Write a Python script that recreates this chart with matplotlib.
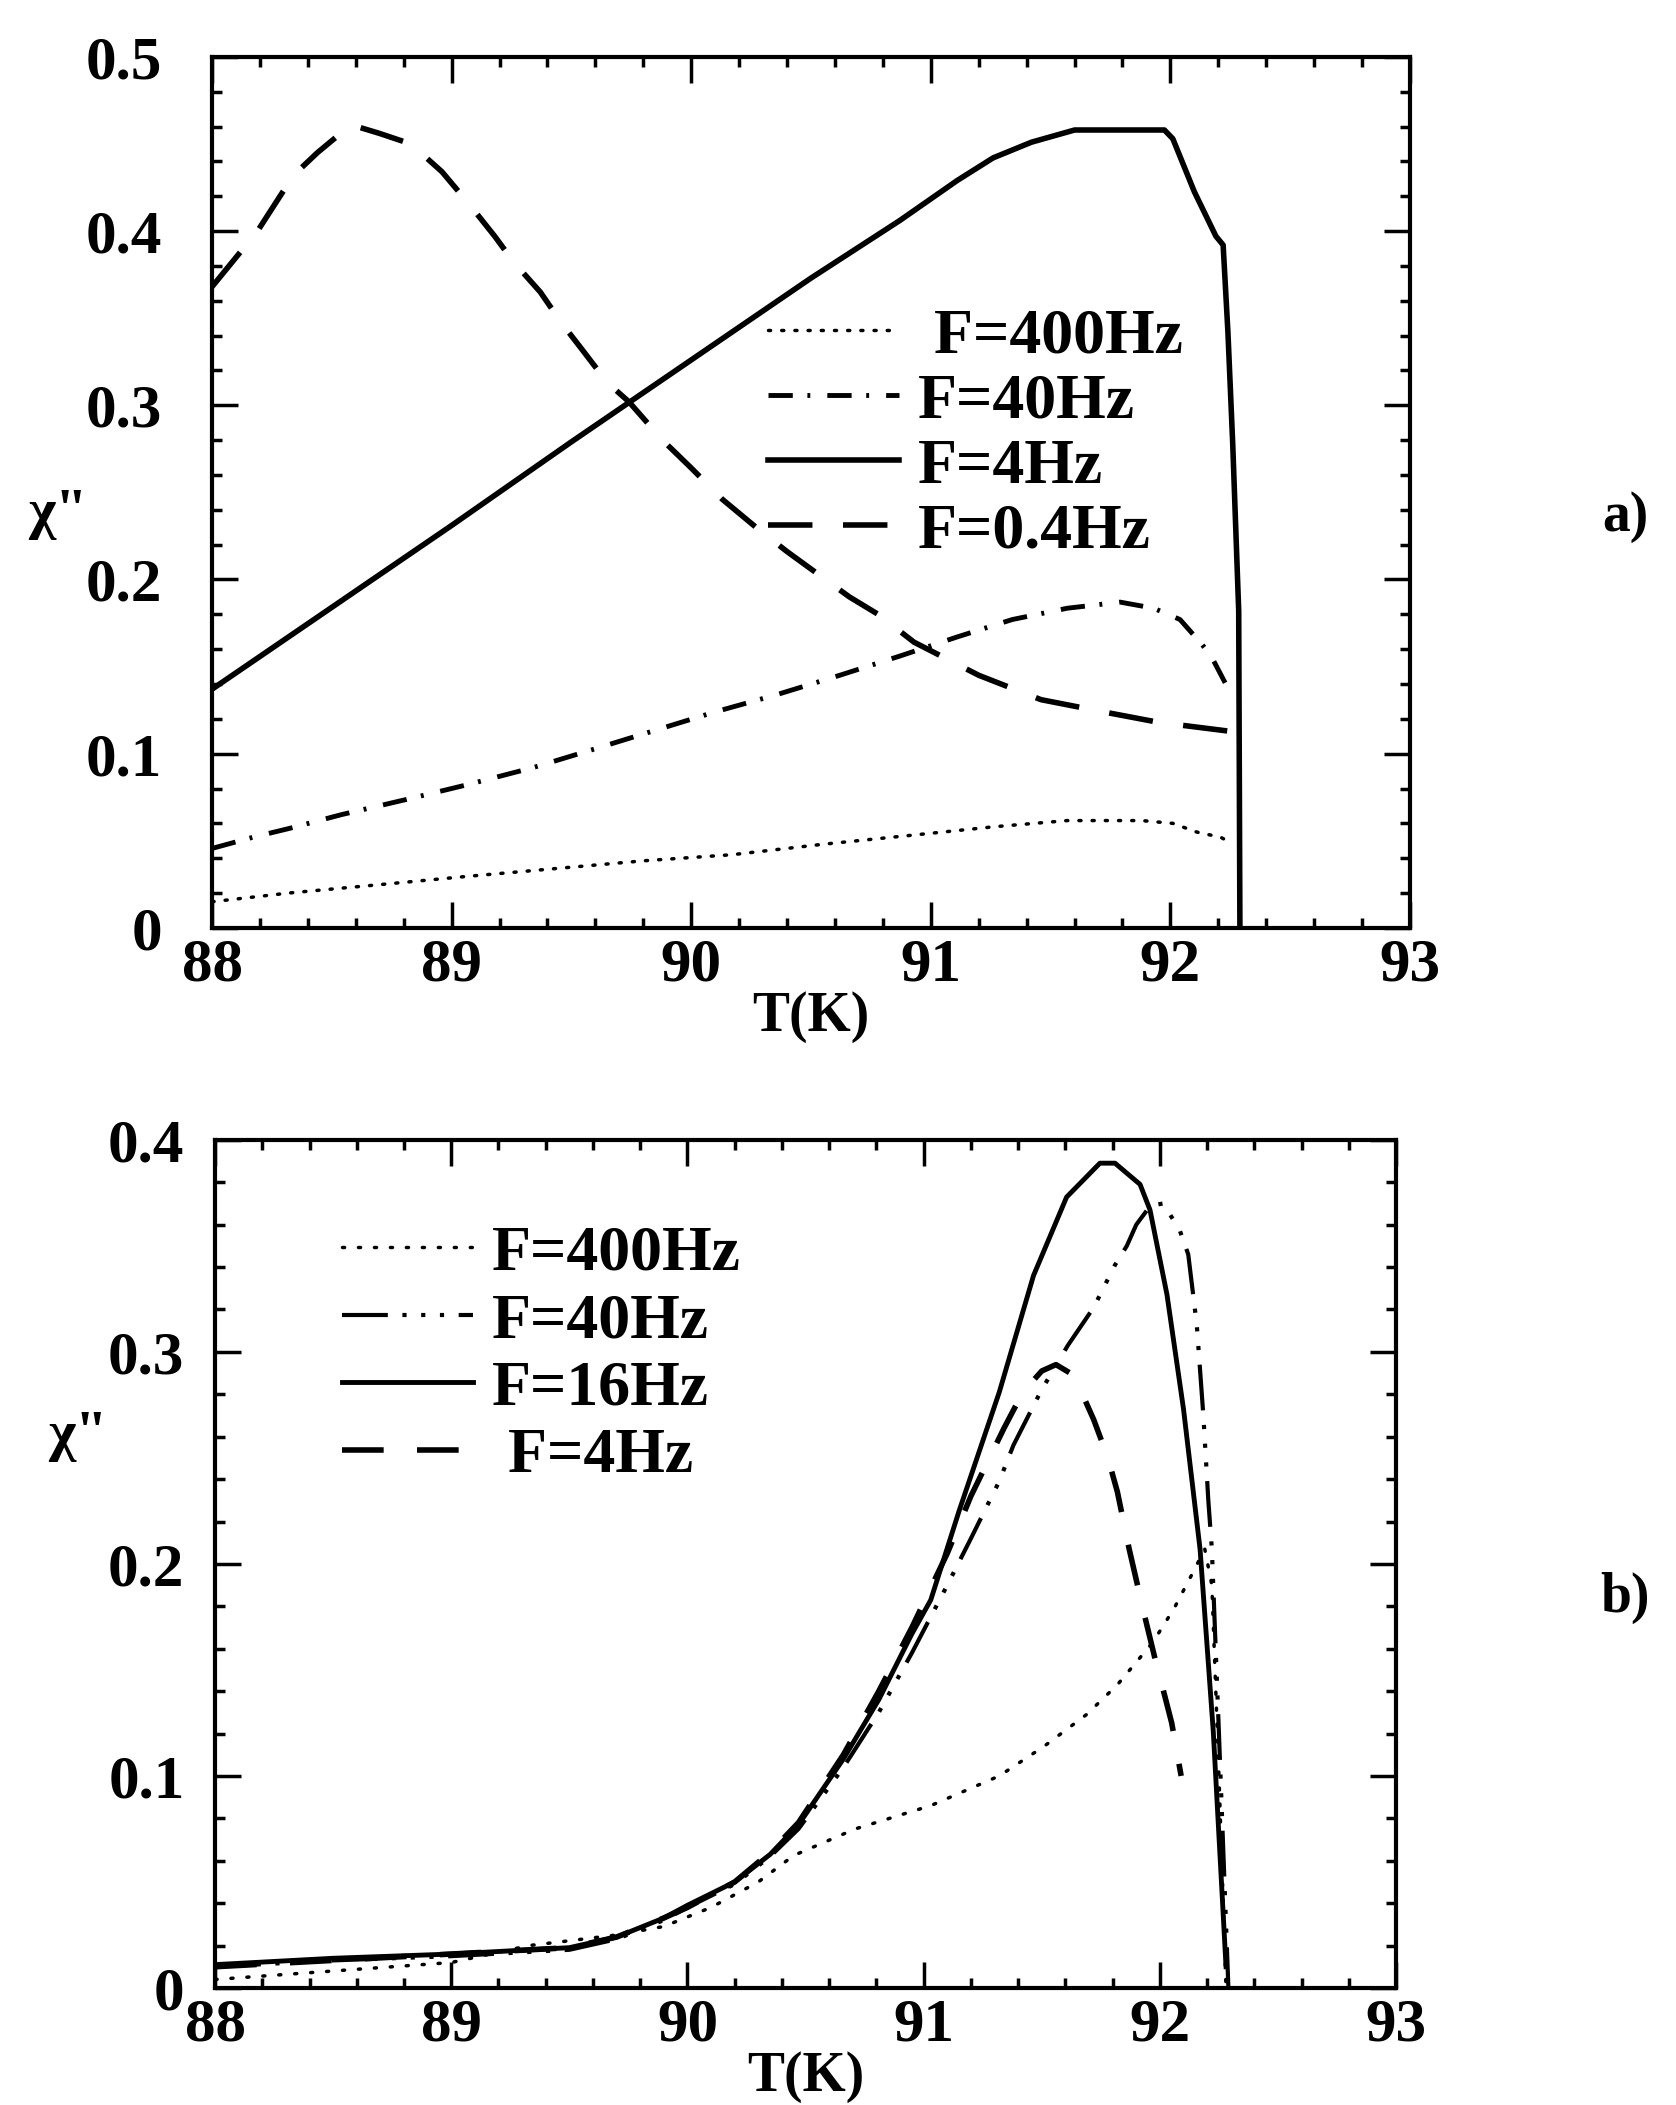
import matplotlib
matplotlib.use("Agg")
import matplotlib.pyplot as plt
from matplotlib.ticker import MultipleLocator

plt.rcParams['font.family'] = ['Liberation Serif', 'DejaVu Serif']

# ---- panel a) : chi'' vs T, four frequencies ----
t_a_400 = [88.0, 88.32, 88.69, 89.06, 89.43, 89.8, 90.17, 90.55, 90.95, 91.26, 91.57, 91.88, 92.01, 92.11, 92.21, 92.25]
chi_a_400 = [0.015, 0.020, 0.0247, 0.0295, 0.034, 0.0385, 0.042, 0.048, 0.0536, 0.058, 0.0616, 0.0616, 0.060, 0.055, 0.052, 0.049]

t_a_40 = [88.0, 88.17, 88.32, 88.54, 88.82, 89.06, 89.34, 89.58, 89.84, 90.1, 90.36, 90.62, 90.87, 91.11, 91.34, 91.57, 91.79, 91.93, 92.04, 92.13, 92.17, 92.25]
chi_a_40 = [0.0456, 0.052, 0.057, 0.065, 0.074, 0.082, 0.092, 0.102, 0.113, 0.124, 0.134, 0.145, 0.156, 0.167, 0.177, 0.1835, 0.187, 0.1835, 0.177, 0.163, 0.156, 0.135]

t_a_4 = [88.0, 88.5, 89.0, 89.5, 90.0, 90.5, 90.87, 91.11, 91.26, 91.42, 91.6, 91.975, 92.01, 92.10, 92.19, 92.22, 92.24, 92.26, 92.285, 92.29]
chi_a_4 = [0.137, 0.184, 0.231, 0.279, 0.326, 0.373, 0.406, 0.429, 0.442, 0.451, 0.458, 0.458, 0.453, 0.4225, 0.397, 0.392, 0.342, 0.278, 0.182, 0.0]

t_a_04 = [88.0, 88.19, 88.34, 88.44, 88.58, 88.70, 88.83, 88.96, 89.07, 89.18, 89.26, 89.37, 89.46, 89.55, 89.65, 89.74, 89.88, 90.0, 90.13, 90.27, 90.40, 90.53, 90.66, 90.78, 90.93, 91.2, 91.46, 91.72, 91.95, 92.24, 92.28]
chi_a_04 = [0.368, 0.40, 0.432, 0.445, 0.461, 0.456, 0.45, 0.434, 0.416, 0.397, 0.382, 0.365, 0.347, 0.331, 0.313, 0.302, 0.28, 0.264, 0.246, 0.23, 0.216, 0.203, 0.19, 0.18, 0.164, 0.145, 0.131, 0.124, 0.118, 0.113, 0.112]

# ---- panel b) ----
t_b_400 = [88.0, 88.5, 89.0, 89.33, 89.48, 89.7, 89.9, 90.1, 90.3, 90.45, 90.71, 91.03, 91.32, 91.51, 91.69, 91.82, 91.97, 92.06, 92.14, 92.19, 92.22, 92.25, 92.28]
chi_b_400 = [0.004, 0.008, 0.012, 0.020, 0.022, 0.025, 0.029, 0.038, 0.050, 0.0625, 0.075, 0.086, 0.100, 0.114, 0.129, 0.143, 0.163, 0.179, 0.196, 0.207, 0.19, 0.10, 0.0]

t_b_40 = [88.0, 88.5, 89.0, 89.5, 89.7, 89.9, 90.0, 90.2, 90.35, 90.47, 90.66, 90.81, 90.95, 91.1, 91.2, 91.32, 91.38, 91.485, 91.52, 91.61, 91.72, 91.81, 91.86, 91.90, 91.96, 92.015, 92.085, 92.12, 92.156, 92.184, 92.205, 92.22, 92.25, 92.29]
chi_b_40 = [0.010, 0.013, 0.015, 0.018, 0.023, 0.032, 0.038, 0.049, 0.062, 0.075, 0.104, 0.13, 0.158, 0.19, 0.212, 0.239, 0.256, 0.279, 0.286, 0.303, 0.321, 0.341, 0.35, 0.36, 0.369, 0.37, 0.357, 0.346, 0.313, 0.27, 0.23, 0.207, 0.12, 0.0]

t_b_16 = [88.0, 88.5, 89.0, 89.5, 89.7, 89.9, 90.0, 90.2, 90.35, 90.47, 90.66, 90.81, 90.95, 91.03, 91.15, 91.32, 91.465, 91.605, 91.746, 91.81, 91.916, 91.958, 92.03, 92.10, 92.17, 92.226, 92.28]
chi_b_16 = [0.011, 0.014, 0.016, 0.019, 0.024, 0.033, 0.039, 0.050, 0.063, 0.077, 0.108, 0.136, 0.167, 0.183, 0.225, 0.281, 0.336, 0.373, 0.389, 0.389, 0.379, 0.367, 0.327, 0.273, 0.207, 0.121, 0.010]

t_b_4 = [88.0, 88.5, 89.0, 89.5, 89.7, 89.9, 90.0, 90.2, 90.35, 90.47, 90.66, 90.81, 90.95, 91.1, 91.2, 91.34, 91.42, 91.5, 91.56, 91.62, 91.66, 91.72, 91.78, 91.82, 91.87, 91.93, 91.98, 92.02, 92.05, 92.09]
chi_b_4 = [0.010, 0.013, 0.016, 0.019, 0.024, 0.033, 0.038, 0.050, 0.064, 0.078, 0.11, 0.14, 0.17, 0.205, 0.232, 0.264, 0.281, 0.291, 0.294, 0.29, 0.283, 0.268, 0.25, 0.234, 0.207, 0.178, 0.155, 0.138, 0.125, 0.10]

# ---- axis ticks and labels ----
x_ticks = [88, 89, 90, 91, 92, 93]
x_tick_labels = ['88', '89', '90', '91', '92', '93']
y_ticks_a = [0, 0.1, 0.2, 0.3, 0.4, 0.5]
y_tick_labels_a = ['0', '0.1', '0.2', '0.3', '0.4', '0.5']
y_ticks_b = [0, 0.1, 0.2, 0.3, 0.4]
y_tick_labels_b = ['0', '0.1', '0.2', '0.3', '0.4']

legend_a = [' F=400Hz', 'F=40Hz', 'F=4Hz', 'F=0.4Hz']
legend_b = ['F=400Hz', 'F=40Hz', 'F=16Hz', ' F=4Hz']


# Common look of both panels
def style_axes(ax, yticks, ylabels, ymax, ypad, label_y):
    ax.set_xlim(88, 93)
    ax.set_ylim(0, ymax)
    ax.set_xticks(x_ticks, x_tick_labels, fontsize=44, fontweight='bold')
    ax.set_yticks(yticks, ylabels, fontsize=44, fontweight='bold')
    ax.xaxis.set_minor_locator(MultipleLocator(0.2))
    ax.yaxis.set_minor_locator(MultipleLocator(0.02))
    ax.tick_params(which='both', direction='in', top=True, right=True, width=2.5)
    ax.tick_params(which='major', length=19)
    ax.tick_params(which='minor', length=7)
    ax.tick_params(axis='x', pad=7)
    ax.tick_params(axis='y', pad=ypad)
    for s in ax.spines.values():
        s.set_linewidth(3)
    ax.set_xlabel('T(K)', fontsize=40, fontweight='bold', va='bottom')
    ax.xaxis.set_label_coords(0.5, label_y)


fig = plt.figure(figsize=(16.76, 21.05), dpi=100)
ax_a = fig.add_axes([0.1265, 0.5592, 0.7148, 0.4138])
ax_b = fig.add_axes([0.1283, 0.0556, 0.7047, 0.4029])

# panel a)
ax_a.plot(t_a_400, chi_a_400, color='black', lw=2.5, dashes=(0.6, 3.2), dash_capstyle='round', label=legend_a[0])
ax_a.plot(t_a_40, chi_a_40, color='black', lw=3.5, dashes=(5, 3, 0.6, 3.5), label=legend_a[1])
ax_a.plot(t_a_4, chi_a_4, color='black', lw=4, label=legend_a[2])
ax_a.plot(t_a_04, chi_a_04, color='black', lw=4, dashes=(8, 5.5), label=legend_a[3])
style_axes(ax_a, y_ticks_a, y_tick_labels_a, 0.5, 36, -0.132)
ax_a.legend(loc='upper left', bbox_to_anchor=(0.464, 0.712), frameon=False,
            prop={'size': 46, 'weight': 'bold'}, handlelength=2.05, handletextpad=0.3,
            labelspacing=0.1, borderpad=0, borderaxespad=0)

# panel b)
ax_b.plot(t_b_400, chi_b_400, color='black', lw=2.5, dashes=(0.6, 4), dash_capstyle='round', label=legend_b[0])
ax_b.plot(t_b_40, chi_b_40, color='black', lw=3, dashes=(11, 3.5, 1, 3.5, 1, 3.5, 1, 3.5), label=legend_b[1])
ax_b.plot(t_b_16, chi_b_16, color='black', lw=3.5, label=legend_b[2])
ax_b.plot(t_b_4, chi_b_4, color='black', lw=4, dashes=(7.5, 6), label=legend_b[3])
style_axes(ax_b, y_ticks_b, y_tick_labels_b, 0.4, 22, -0.1356)
ax_b.legend(loc='upper left', bbox_to_anchor=(0.1075, 0.90), frameon=False,
            prop={'size': 46, 'weight': 'bold'}, handlelength=2.05, handletextpad=0.3,
            labelspacing=0.14, borderpad=0, borderaxespad=0)

# y labels and panel tags
fig.text(58 / 1676, 1 - 514 / 2105, 'χ"', fontsize=42, fontweight='bold', ha='center', va='center')
fig.text(78 / 1676, 1 - 1436 / 2105, 'χ"', fontsize=42, fontweight='bold', ha='center', va='center')
fig.text(1625 / 1676, 1 - 517 / 2105, 'a)', fontsize=40, fontweight='bold', ha='center', va='center')
fig.text(1625 / 1676, 1 - 1598 / 2105, 'b)', fontsize=40, fontweight='bold', ha='center', va='center')

fig.savefig('out.png', dpi=100)
